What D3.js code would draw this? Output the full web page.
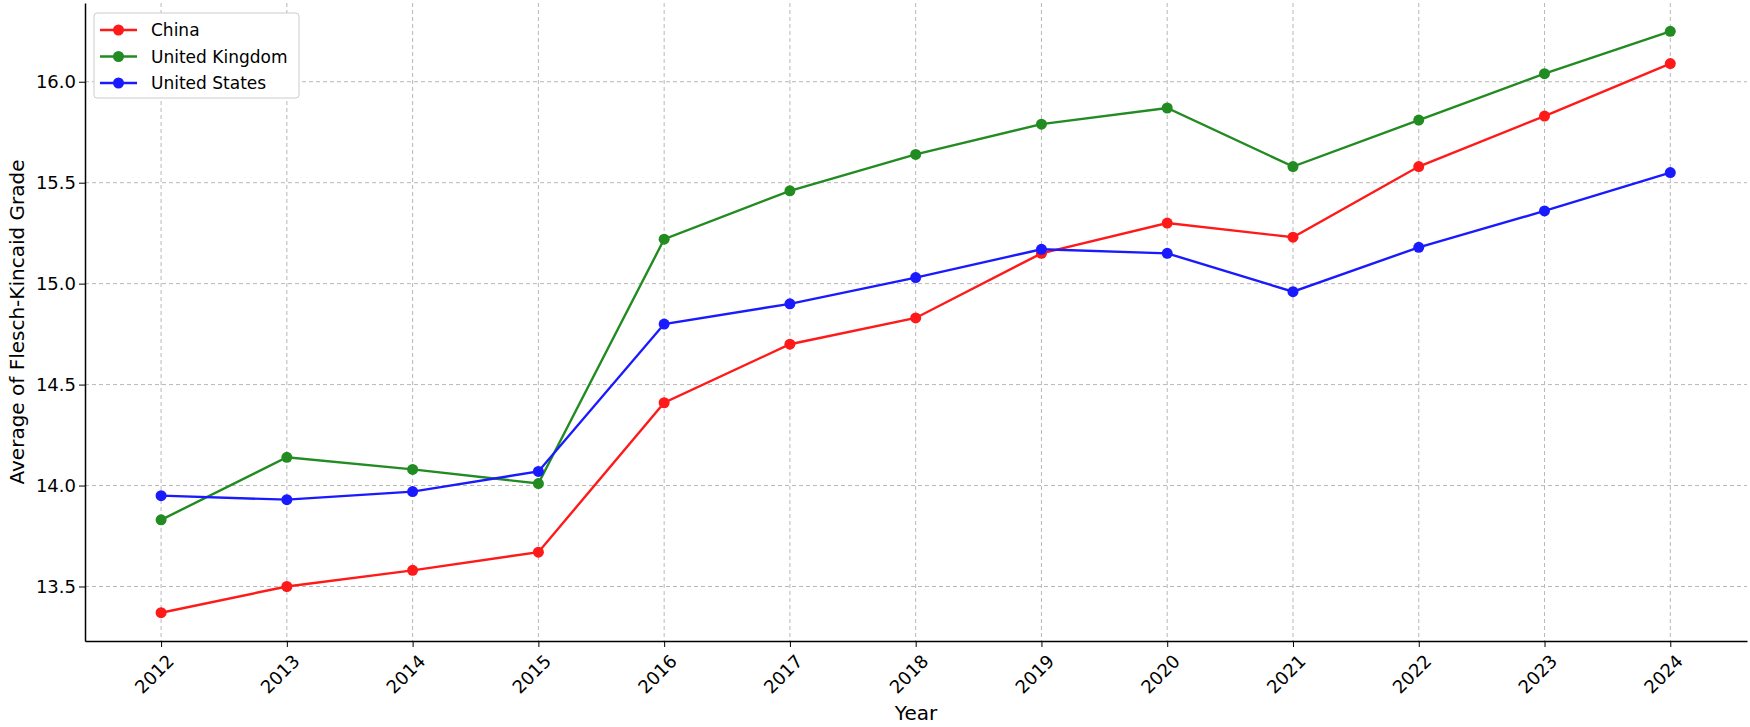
<!DOCTYPE html>
<html lang="en">
<head>
<meta charset="UTF-8">
<script src="https://cdnjs.cloudflare.com/ajax/libs/d3/7.8.5/d3.min.js"></script>
<style>
  body { margin: 0; background: #fff; }
  text { font-family: "DejaVu Sans", sans-serif; }
</style>
</head>
<body>
<svg id="chart" width="1750" height="727"></svg>
<script>
var years = [2012, 2013, 2014, 2015, 2016, 2017, 2018, 2019, 2020, 2021, 2022, 2023, 2024];
var china = [13.37, 13.50, 13.58, 13.67, 14.41, 14.70, 14.83, 15.15, 15.30, 15.23, 15.58, 15.83, 16.09];
var uk    = [13.83, 14.14, 14.08, 14.01, 15.22, 15.46, 15.64, 15.79, 15.87, 15.58, 15.81, 16.04, 16.25];
var us    = [13.95, 13.93, 13.97, 14.07, 14.80, 14.90, 15.03, 15.17, 15.15, 14.96, 15.18, 15.36, 15.55];
var yTicks = [13.5, 14.0, 14.5, 15.0, 15.5, 16.0];

var series = [
  {name: "China", values: china, color: "#ff1a1a"},
  {name: "United Kingdom", values: uk, color: "#228b22"},
  {name: "United States", values: us, color: "#1a1aff"}
];

var margin = {top: 3, right: 3, bottom: 86, left: 85},
    width = 1750 - margin.left - margin.right,
    height = 727 - margin.top - margin.bottom;

var svg = d3.select("#chart");
var g = svg.append("g").attr("transform", "translate(" + margin.left + "," + margin.top + ")");

var x = d3.scaleLinear().domain([2011.395, 2024.61]).range([0, width]);
var y = d3.scaleLinear().domain([13.23, 16.39]).range([height, 0]);

// grid
g.selectAll(".vgrid").data(years).enter().append("line")
  .attr("x1", d => x(d)).attr("x2", d => x(d)).attr("y1", 0).attr("y2", height)
  .attr("stroke", "#b8b8b8").attr("stroke-dasharray", "4,3").attr("stroke-width", 1);
g.selectAll(".hgrid").data(yTicks).enter().append("line")
  .attr("x1", 0).attr("x2", width).attr("y1", d => y(d)).attr("y2", d => y(d))
  .attr("stroke", "#b8b8b8").attr("stroke-dasharray", "4,3").attr("stroke-width", 1);

// axes
var xAxis = g.append("g").attr("transform", "translate(0," + height + ")")
  .call(d3.axisBottom(x).tickValues(years).tickFormat(d3.format("d")).tickSize(6).tickSizeOuter(0));
xAxis.selectAll("text")
  .style("font-size", "18px").attr("fill", "#000")
  .attr("text-anchor", "end")
  .attr("transform", "translate(-2,6) rotate(-45)");
var yAxis = g.append("g")
  .call(d3.axisLeft(y).tickValues(yTicks).tickFormat(d3.format(".1f")).tickSize(6).tickSizeOuter(0));
yAxis.selectAll("text").style("font-size", "18px").attr("fill", "#000");
[xAxis, yAxis].forEach(a => a.select(".domain").attr("stroke", "#000").attr("stroke-width", 1.5));

svg.append("text").attr("x", margin.left + width / 2).attr("y", 720)
  .attr("text-anchor", "middle").style("font-size", "20px").text("Year");
svg.append("text").attr("transform", "translate(24," + (margin.top + height / 2) + ") rotate(-90)")
  .attr("text-anchor", "middle").style("font-size", "20px").text("Average of Flesch-Kincaid Grade");

// lines
var line = d3.line().x((d, i) => x(years[i])).y(d => y(d));
series.forEach(function(s) {
  g.append("path").datum(s.values).attr("d", line)
    .attr("fill", "none").attr("stroke", s.color).attr("stroke-width", 2.4);
  g.selectAll(null).data(s.values).enter().append("circle")
    .attr("cx", (d, i) => x(years[i])).attr("cy", d => y(d)).attr("r", 5.5)
    .attr("fill", s.color);
});

// legend
var lg = g.append("g").attr("transform", "translate(9,10)");
lg.append("rect").attr("width", 205).attr("height", 85).attr("rx", 3)
  .attr("fill", "#fff").attr("stroke", "#ccc");
series.forEach(function(s, i) {
  var ly = 17 + i * 26.5;
  lg.append("line").attr("x1", 6).attr("x2", 43).attr("y1", ly).attr("y2", ly)
    .attr("stroke", s.color).attr("stroke-width", 2.4);
  lg.append("circle").attr("cx", 24.5).attr("cy", ly).attr("r", 5.5).attr("fill", s.color);
  lg.append("text").attr("x", 57).attr("y", ly + 6).style("font-size", "17px").text(s.name);
});
</script>
</body>
</html>
